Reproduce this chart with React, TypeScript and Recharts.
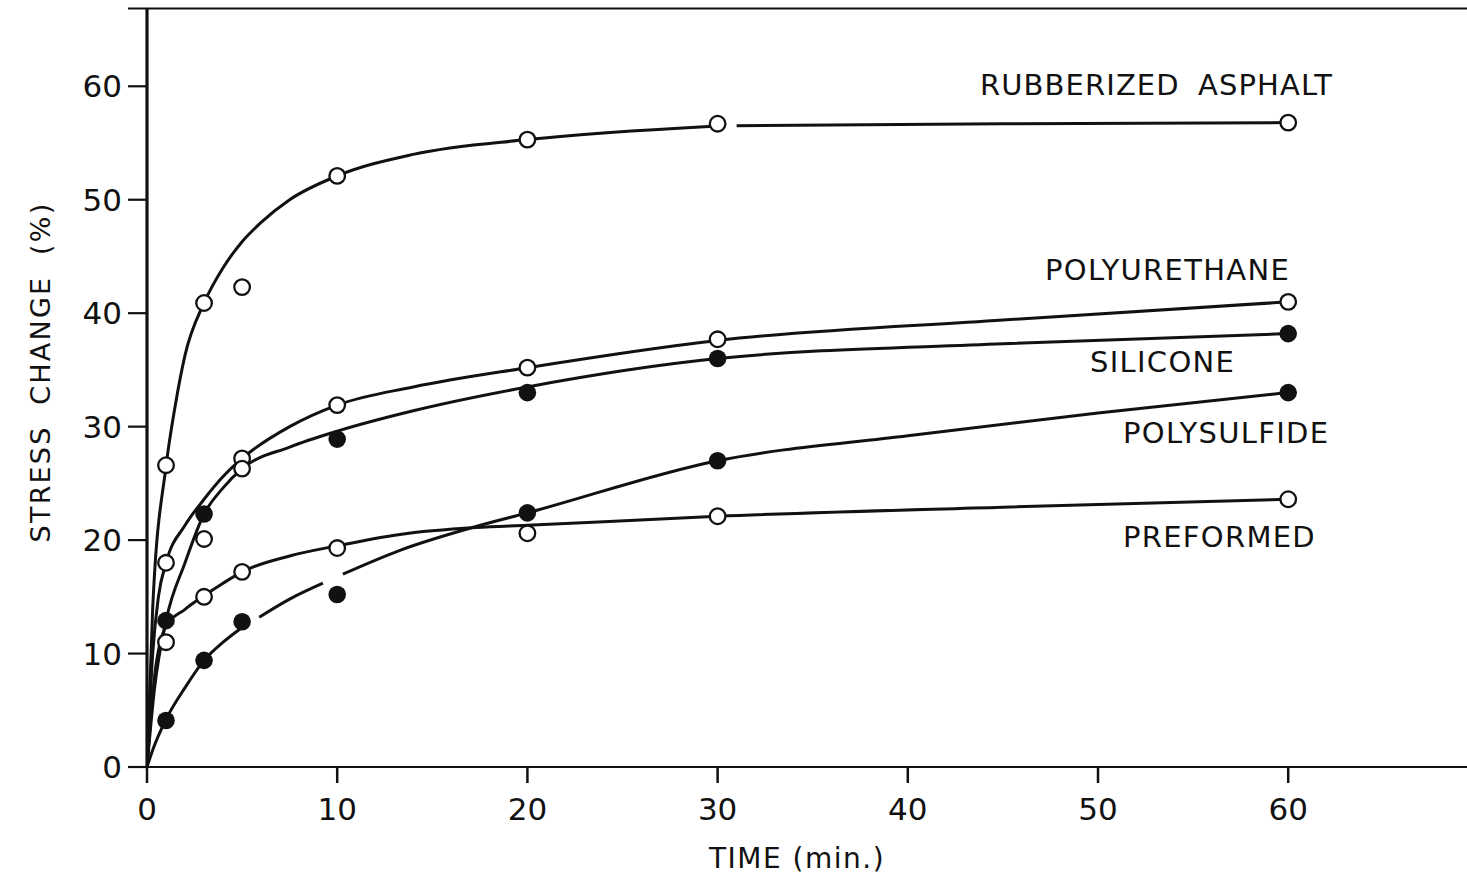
import React from 'react';
import { ComposedChart, Line, Scatter, XAxis, YAxis } from 'recharts';

// ---- axis ticks ----
const xTicks = [0, 10, 20, 30, 40, 50, 60];
const yTicks = [0, 10, 20, 30, 40, 50, 60];

// ---- measured points (t = time in min, v = stress change %) ----
const asphaltPoints = [
  { t: 1, v: 26.6 }, { t: 3, v: 40.9 }, { t: 5, v: 42.3 }, { t: 10, v: 52.1 },
  { t: 20, v: 55.3 }, { t: 30, v: 56.7 }, { t: 60, v: 56.8 },
];
const polyurethanePoints = [
  { t: 1, v: 18.0 }, { t: 3, v: 20.1 }, { t: 5, v: 27.2 }, { t: 10, v: 31.9 },
  { t: 20, v: 35.2 }, { t: 30, v: 37.7 }, { t: 60, v: 41.0 },
];
const siliconePoints = [
  { t: 1, v: 12.9 }, { t: 3, v: 22.3 }, { t: 10, v: 28.9 },
  { t: 20, v: 33.0 }, { t: 30, v: 36.0 }, { t: 60, v: 38.2 },
];
const siliconeOpenPoints = [{ t: 5, v: 26.3 }];
const polysulfidePoints = [
  { t: 1, v: 4.1 }, { t: 3, v: 9.4 }, { t: 5, v: 12.8 }, { t: 10, v: 15.2 },
  { t: 20, v: 22.4 }, { t: 30, v: 27.0 }, { t: 60, v: 33.0 },
];
const preformedPoints = [
  { t: 1, v: 11.0 }, { t: 3, v: 15.0 }, { t: 5, v: 17.2 }, { t: 10, v: 19.3 },
  { t: 20, v: 20.6 }, { t: 30, v: 22.1 }, { t: 60, v: 23.6 },
];

// ---- fitted curves as drawn (null = break in the pen line) ----
const asphaltCurve = [
  { t: 0, v: 0 }, { t: 0.3, v: 14 }, { t: 1, v: 26.5 }, { t: 1.5, v: 32 },
  { t: 2, v: 36.3 }, { t: 3, v: 40.9 }, { t: 4, v: 44 }, { t: 5, v: 46.3 },
  { t: 6, v: 48 }, { t: 7.5, v: 50 }, { t: 10, v: 52.1 }, { t: 14, v: 54 },
  { t: 20, v: 55.3 }, { t: 30, v: 56.5 }, { t: 30.5, v: null }, { t: 31, v: 56.52 },
  { t: 45, v: 56.7 }, { t: 60, v: 56.8 },
];
const polyurethaneCurve = [
  { t: 0, v: 0 }, { t: 0.3, v: 10 }, { t: 0.6, v: 15 }, { t: 1, v: 18 },
  { t: 2, v: 21.3 }, { t: 3, v: 23.6 }, { t: 4, v: 25.6 }, { t: 5, v: 27.2 },
  { t: 7.5, v: 30 }, { t: 10, v: 31.9 }, { t: 14, v: 33.5 }, { t: 20, v: 35.2 },
  { t: 30, v: 37.6 }, { t: 45, v: 39.4 }, { t: 60, v: 41 },
];
const siliconeCurve = [
  { t: 0, v: 0 }, { t: 0.4, v: 7 }, { t: 1, v: 12.9 }, { t: 2, v: 18 },
  { t: 3, v: 22.3 }, { t: 4, v: 24.6 }, { t: 5, v: 26.3 }, { t: 7.5, v: 28.2 },
  { t: 10, v: 29.6 }, { t: 14, v: 31.4 }, { t: 20, v: 33.5 }, { t: 30, v: 36 },
  { t: 45, v: 37.3 }, { t: 60, v: 38.2 },
];
const polysulfideCurve = [
  { t: 0, v: 0 }, { t: 0.3, v: 1.5 }, { t: 1, v: 4.2 }, { t: 2, v: 7 },
  { t: 3, v: 9.4 }, { t: 4, v: 11 }, { t: 5, v: 12.3 }, { t: 5.45, v: null },
  { t: 5.9, v: 13.2 }, { t: 7.5, v: 14.8 }, { t: 9.25, v: 16.2 }, { t: 9.8, v: null },
  { t: 10.3, v: 17.0 }, { t: 13.3, v: 19.1 }, { t: 17.3, v: 21.2 }, { t: 20, v: 22.4 },
  { t: 30, v: 27 }, { t: 40, v: 29.2 }, { t: 50, v: 31.2 }, { t: 60, v: 33 },
];
const preformedCurve = [
  { t: 0, v: 0 }, { t: 0.4, v: 8 }, { t: 1, v: 12.4 }, { t: 2, v: 13.9 },
  { t: 3, v: 15.1 }, { t: 4, v: 16.2 }, { t: 5, v: 17.2 }, { t: 7.5, v: 18.6 },
  { t: 10, v: 19.5 }, { t: 13.3, v: 20.5 }, { t: 17.3, v: 21.1 }, { t: 20, v: 21.3 },
  { t: 30, v: 22.1 }, { t: 45, v: 22.9 }, { t: 60, v: 23.6 },
];

const INK = '#111';
const FONT = 'DejaVu Sans';

const OpenCircle = (props: any) => (
  <circle cx={props.cx} cy={props.cy} r={7.8} fill="#fff" stroke={INK} strokeWidth={2.3} />
);
const FilledCircle = (props: any) => (
  <circle cx={props.cx} cy={props.cy} r={8.8} fill={INK} stroke="none" />
);

const labelStyle = { fontFamily: FONT, fontSize: 29, fill: INK, letterSpacing: 1.3 } as any;

export default function App() {
  const curves = [asphaltCurve, polyurethaneCurve, siliconeCurve, polysulfideCurve, preformedCurve];
  return (
    <div style={{ position: 'absolute', left: 0, top: 0, width: 1467, height: 877, background: '#fff' }}>
      <ComposedChart width={1467} height={877} margin={{ top: 8, right: 0, bottom: 0, left: 0 }}>
        <XAxis
          type="number"
          dataKey="t"
          domain={[0, 69.4]}
          allowDataOverflow
          ticks={xTicks}
          height={110}
          tickSize={16}
          tickMargin={15}
          axisLine={{ stroke: INK, strokeWidth: 2.2 }}
          tickLine={{ stroke: INK, strokeWidth: 2.5 }}
          tick={{ fill: INK, fontSize: 31, fontFamily: FONT }}
          interval={0}
        />
        <YAxis
          type="number"
          domain={[0, 66.9]}
          allowDataOverflow
          ticks={yTicks}
          width={147}
          tickSize={19}
          tickMargin={6}
          axisLine={{ stroke: INK, strokeWidth: 3.2 }}
          tickLine={{ stroke: INK, strokeWidth: 2.2 }}
          tick={{ fill: INK, fontSize: 31, fontFamily: FONT }}
          interval={0}
        />
        {curves.map((c, i) => (
          <Line
            key={i}
            data={c}
            dataKey="v"
            type="monotone"
            dot={false}
            activeDot={false}
            connectNulls={false}
            stroke={INK}
            strokeWidth={3}
            isAnimationActive={false}
          />
        ))}
        <Scatter data={asphaltPoints} dataKey="v" shape={OpenCircle} isAnimationActive={false} />
        <Scatter data={polyurethanePoints} dataKey="v" shape={OpenCircle} isAnimationActive={false} />
        <Scatter data={siliconeOpenPoints} dataKey="v" shape={OpenCircle} isAnimationActive={false} />
        <Scatter data={preformedPoints} dataKey="v" shape={OpenCircle} isAnimationActive={false} />
        <Scatter data={siliconePoints} dataKey="v" shape={FilledCircle} isAnimationActive={false} />
        <Scatter data={polysulfidePoints} dataKey="v" shape={FilledCircle} isAnimationActive={false} />

        {/* top frame line */}
        <line x1={128} y1={8.5} x2={1467} y2={8.5} stroke={INK} strokeWidth={2} />

        {/* series labels */}
        <text x={980} y={95} style={{ ...labelStyle, letterSpacing: 1.1, wordSpacing: 8 }}>RUBBERIZED ASPHALT</text>
        <text x={1045} y={280} style={labelStyle}>POLYURETHANE</text>
        <text x={1090} y={372} style={labelStyle}>SILICONE</text>
        <text x={1123} y={443} style={labelStyle}>POLYSULFIDE</text>
        <text x={1123} y={547} style={labelStyle}>PREFORMED</text>

        {/* axis titles */}
        <text x={797} y={868} textAnchor="middle" style={{ fontFamily: FONT, fontSize: 28, fill: INK, letterSpacing: 1.5 }}>
          TIME (min.)
        </text>
        <text
          x={50}
          y={372}
          textAnchor="middle"
          transform="rotate(-90 50 372)"
          style={{ fontFamily: FONT, fontSize: 27, fill: INK, letterSpacing: 2.2, wordSpacing: 10 }}
        >
          STRESS CHANGE (%)
        </text>
      </ComposedChart>
    </div>
  );
}
